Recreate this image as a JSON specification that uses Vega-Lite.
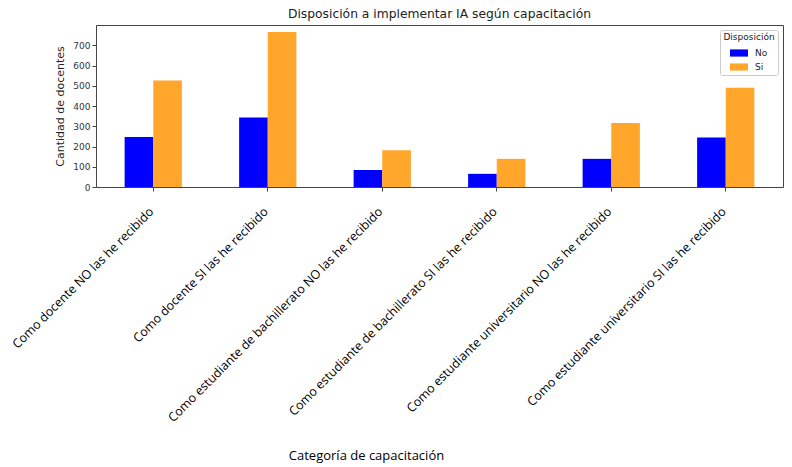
{
  "$schema": "https://vega.github.io/schema/vega-lite/v6.json",
  "width": 687,
  "height": 162,
  "autosize": {"type": "none"},
  "padding": {"left": 96, "top": 25, "right": 9, "bottom": 280},
  "title": {"text": "Disposición a implementar IA según capacitación", "font": "DejaVu Sans", "fontSize": 12.3, "fontWeight": "normal", "color": "#222", "offset": 5},
  "config": {"view": {"stroke": "#444", "strokeWidth": 1}},
  "data": {"values": [
    {"categoria": "Como docente NO las he recibido", "disposicion": "No", "cantidad": 247},
    {"categoria": "Como docente NO las he recibido", "disposicion": "Si", "cantidad": 526},
    {"categoria": "Como docente SI las he recibido", "disposicion": "No", "cantidad": 343},
    {"categoria": "Como docente SI las he recibido", "disposicion": "Si", "cantidad": 765},
    {"categoria": "Como estudiante de bachillerato NO las he recibido", "disposicion": "No", "cantidad": 84},
    {"categoria": "Como estudiante de bachillerato NO las he recibido", "disposicion": "Si", "cantidad": 182},
    {"categoria": "Como estudiante de bachillerato SI las he recibido", "disposicion": "No", "cantidad": 65},
    {"categoria": "Como estudiante de bachillerato SI las he recibido", "disposicion": "Si", "cantidad": 139},
    {"categoria": "Como estudiante universitario NO las he recibido", "disposicion": "No", "cantidad": 139},
    {"categoria": "Como estudiante universitario NO las he recibido", "disposicion": "Si", "cantidad": 316},
    {"categoria": "Como estudiante universitario SI las he recibido", "disposicion": "No", "cantidad": 245},
    {"categoria": "Como estudiante universitario SI las he recibido", "disposicion": "Si", "cantidad": 490}
  ]},
  "mark": {"type": "bar"},
  "encoding": {
    "x": {
      "field": "categoria", "type": "nominal", "sort": null,
      "scale": {"paddingInner": 0.5, "paddingOuter": 0.25},
      "axis": {
        "title": "Categoría de capacitación", "titleFont": "Open Sans", "titleFontSize": 13, "titleFontWeight": "normal", "titleColor": "#000",
        "titleX": 270, "titleY": 268, "titleAnchor": "middle", "titleAlign": "center", "titleBaseline": "middle",
        "labelAngle": -45, "labelFont": "Open Sans", "labelFontSize": 12.4, "labelColor": "#000", "labelLimit": 400, "labelPadding": 14, "labelOffset": -6,
        "bandPosition": 0.5, "domain": false, "tickColor": "#444", "tickSize": 4
      }
    },
    "xOffset": {"field": "disposicion", "type": "nominal", "scale": {"paddingInner": 0, "paddingOuter": 0}},
    "y": {
      "field": "cantidad", "type": "quantitative",
      "scale": {"domain": [0, 800], "nice": false},
      "axis": {
        "title": "Cantidad de docentes", "titleFont": "DejaVu Sans", "titleFontSize": 11, "titleFontWeight": "normal", "titleColor": "#222", "titlePadding": 7,
        "values": [0, 100, 200, 300, 400, 500, 600, 700], "grid": false, "domain": false,
        "labelFont": "DejaVu Sans", "labelFontSize": 9, "labelColor": "#333", "tickColor": "#444", "tickSize": 4
      }
    },
    "color": {
      "field": "disposicion", "type": "nominal",
      "scale": {"domain": ["No", "Si"], "range": ["#0000ff", "#ffa62b"]},
      "legend": {
        "title": "Disposición", "orient": "top-right", "offset": 5,
        "titleFont": "DejaVu Sans", "titleFontSize": 9, "titleFontWeight": "normal", "titleColor": "#222", "titleAnchor": "middle", "titlePadding": 2,
        "labelFont": "DejaVu Sans", "labelFontSize": 9, "labelColor": "#222", "labelOffset": 7,
        "symbolType": "M-1,-0.4H1V0.4H-1Z", "symbolSize": 324, "symbolStrokeWidth": 0, "symbolOpacity": 1,
        "strokeColor": "#ccc", "fillColor": "#fff", "padding": 3, "cornerRadius": 2, "rowPadding": 0
      }
    }
  }
}
